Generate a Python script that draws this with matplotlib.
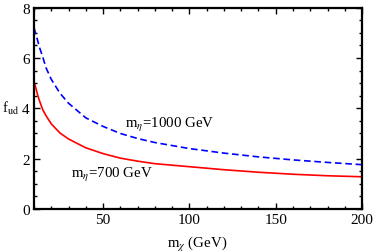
import matplotlib
matplotlib.use('Agg')
import matplotlib.pyplot as plt
from matplotlib.ticker import MultipleLocator

plt.rcParams['font.family'] = ['Liberation Serif', 'DejaVu Serif']
plt.rcParams['mathtext.fontset'] = 'stix'

# values
m_chi = [10, 11, 12, 13, 15, 17, 20, 25, 30, 40, 50, 60, 70, 80, 100, 120, 140, 160, 180, 200]
f_700 = [5.05, 4.82, 4.55, 4.33, 3.95, 3.70, 3.38, 3.02, 2.78, 2.43, 2.20, 2.02, 1.90, 1.80,
         1.68, 1.56, 1.46, 1.38, 1.32, 1.28]
f_1000 = [7.20, 6.95, 6.72, 6.45, 6.05, 5.60, 5.15, 4.60, 4.20, 3.62, 3.28, 3.00, 2.80, 2.64,
          2.40, 2.22, 2.07, 1.95, 1.85, 1.76]


def main():
    fig = plt.figure(figsize=(3.74, 2.53), dpi=100)
    ax = fig.add_axes([0.091, 0.170, 0.877, 0.796])

    ax.plot(m_chi, f_1000, color='#0000ff', lw=1.2, ls=(0, (4, 2.2)))
    ax.plot(m_chi, f_700, color='#ff0000', lw=1.2)

    ax.set_xlim(10, 200)
    ax.set_ylim(0, 8)
    ax.xaxis.set_major_locator(MultipleLocator(50))
    ax.xaxis.set_minor_locator(MultipleLocator(10))
    ax.yaxis.set_major_locator(MultipleLocator(2))
    ax.yaxis.set_minor_locator(MultipleLocator(0.5))
    ax.tick_params(which='both', direction='in', top=True, right=True,
                   labelsize=11, width=1.0, pad=3)
    ax.tick_params(which='major', length=4)
    ax.tick_params(which='minor', length=2)
    for s in ax.spines.values():
        s.set_linewidth(1.6)

    ax.text(62.5, 3.37, r'm$_\eta$=1000 GeV', fontsize=10.7, va='center')
    ax.text(31.5, 1.39, r'm$_\eta$=700 GeV', fontsize=10.7, va='center')

    fig.text(0.005, 0.57, r'f$_{\rm ud}$', fontsize=10.5, va='center')
    fig.text(0.528, 0.035, r'm$_\chi$ (GeV)', fontsize=10.7, ha='center', va='center')

    fig.savefig('out.png', dpi=100)


if __name__ == '__main__':
    main()
